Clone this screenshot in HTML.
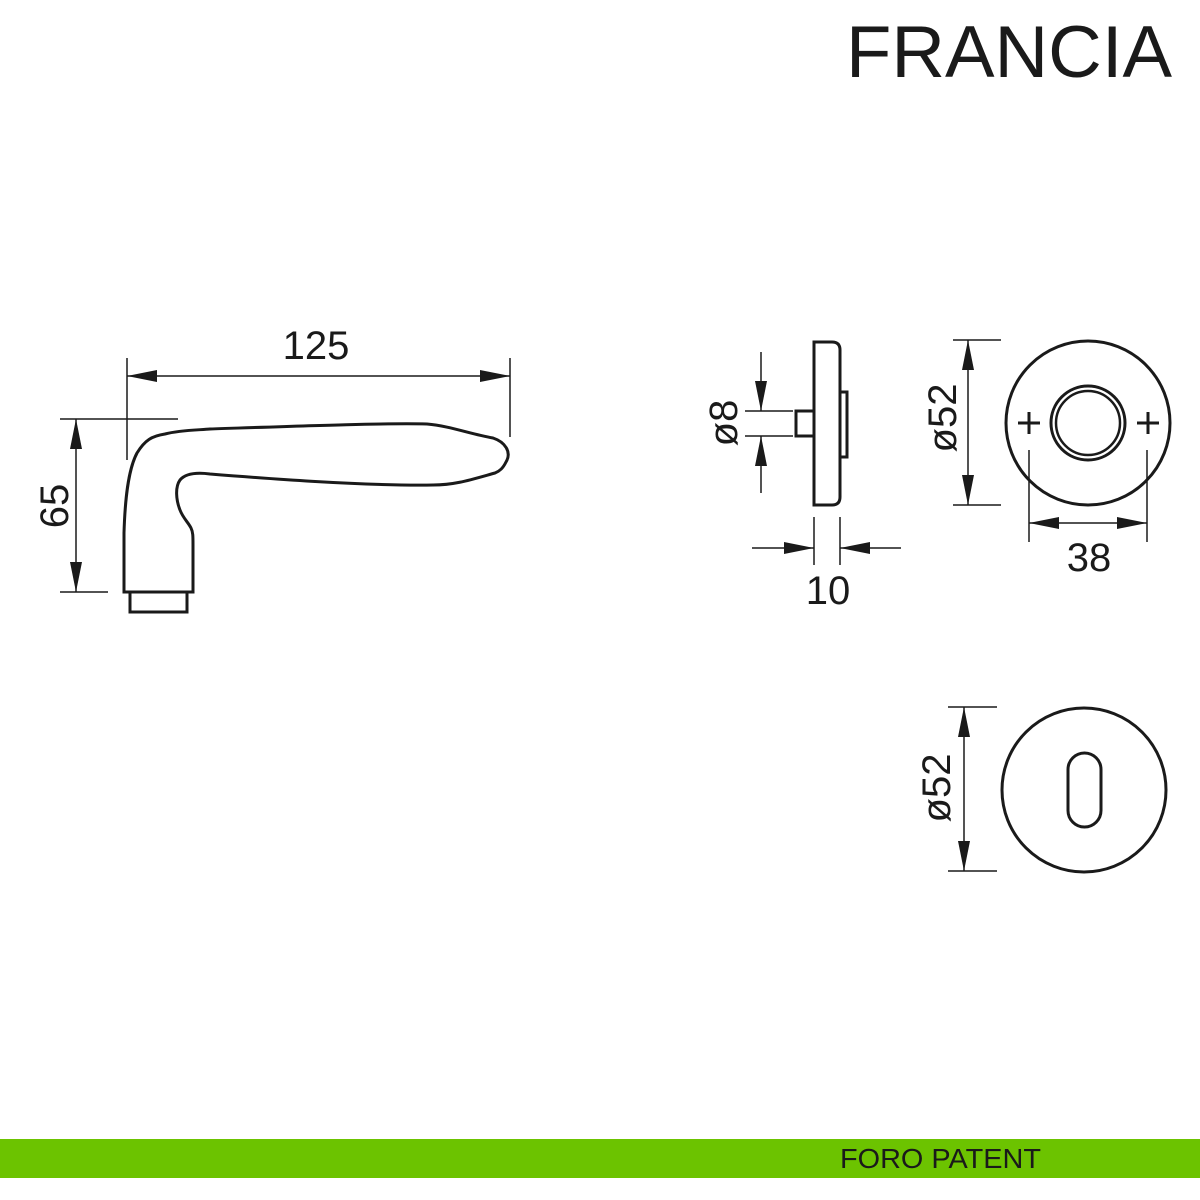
<!DOCTYPE html>
<html><head><meta charset="utf-8"><style>
html,body{margin:0;padding:0;background:#fff}
svg{display:block}
text{font-family:"Liberation Sans",sans-serif;fill:#1a1a1a}
</style></head><body>
<svg width="1200" height="1200" viewBox="0 0 1200 1200" xmlns="http://www.w3.org/2000/svg">
<defs>
<marker id="a" viewBox="0 0 30 12" refX="30" refY="6" markerWidth="30" markerHeight="12" markerUnits="userSpaceOnUse" orient="auto"><path d="M0,0 L30,6 L0,12 z" fill="#1a1a1a"/></marker>
</defs>
<text x="1172" y="77" font-size="73" text-anchor="end" textLength="326" lengthAdjust="spacingAndGlyphs">FRANCIA</text>

<g stroke="#1a1a1a" fill="none">
<path stroke-width="3" d="M124,592 L124,533 C125,500 128,470 137,453 C145,440 152,436 165,434 C180,430 200,430 210,429 C300,426 380,423 427,424 C450,426 470,434 493,438 C505,442 512,452 506,462 C503,468 500,471 495,473 C470,480 455,485 433,485 C360,486 260,478 210,474 C195,472 185,474 180,480 C175,487 176,500 180,510 C183,518 188,522 191,528 C193,532 193,536 193,545 L193,592 Z"/>
<path stroke-width="3" d="M130,593 L130,612 L187,612 L187,593"/>
<line x1="127" y1="358" x2="127" y2="460" stroke-width="1.5"/>
<line x1="510" y1="358" x2="510" y2="437" stroke-width="1.5"/>
<line x1="200" y1="376" x2="127" y2="376" stroke-width="1.5" marker-end="url(#a)"/>
<line x1="200" y1="376" x2="510" y2="376" stroke-width="1.5" marker-end="url(#a)"/>
<line x1="60" y1="419" x2="178" y2="419" stroke-width="1.5"/>
<line x1="60" y1="592" x2="108" y2="592" stroke-width="1.5"/>
<line x1="76" y1="500" x2="76" y2="419" stroke-width="1.5" marker-end="url(#a)"/>
<line x1="76" y1="500" x2="76" y2="592" stroke-width="1.5" marker-end="url(#a)"/>

<path stroke-width="3" d="M814,342 L832,342 Q840,342 840,350 L840,497 Q840,505 832,505 L814,505 Z"/>
<path stroke-width="3" d="M840,392 L847,392 L847,457 L840,457"/>
<rect x="796" y="411" width="18" height="25" stroke-width="3"/>
<line x1="745" y1="411" x2="793" y2="411" stroke-width="1.5"/>
<line x1="745" y1="436" x2="793" y2="436" stroke-width="1.5"/>
<line x1="761" y1="352" x2="761" y2="411" stroke-width="1.5" marker-end="url(#a)"/>
<line x1="761" y1="493" x2="761" y2="436" stroke-width="1.5" marker-end="url(#a)"/>
<line x1="814" y1="517" x2="814" y2="565" stroke-width="1.5"/>
<line x1="840" y1="517" x2="840" y2="565" stroke-width="1.5"/>
<line x1="752" y1="548" x2="814" y2="548" stroke-width="1.5" marker-end="url(#a)"/>
<line x1="901" y1="548" x2="840" y2="548" stroke-width="1.5" marker-end="url(#a)"/>

<circle cx="1088" cy="423" r="82" stroke-width="3"/>
<circle cx="1088" cy="423" r="37" stroke-width="3"/>
<circle cx="1088" cy="423" r="32" stroke-width="2.5"/>
<path stroke-width="3" d="M1018,423 H1040 M1029,412 V434 M1137,423 H1159 M1148,412 V434"/>
<line x1="953" y1="340" x2="1001" y2="340" stroke-width="1.5"/>
<line x1="953" y1="505" x2="1001" y2="505" stroke-width="1.5"/>
<line x1="968" y1="420" x2="968" y2="340" stroke-width="1.5" marker-end="url(#a)"/>
<line x1="968" y1="420" x2="968" y2="505" stroke-width="1.5" marker-end="url(#a)"/>
<line x1="1029" y1="450" x2="1029" y2="542" stroke-width="1.5"/>
<line x1="1147" y1="450" x2="1147" y2="542" stroke-width="1.5"/>
<line x1="1088" y1="523" x2="1029" y2="523" stroke-width="1.5" marker-end="url(#a)"/>
<line x1="1088" y1="523" x2="1147" y2="523" stroke-width="1.5" marker-end="url(#a)"/>

<circle cx="1084" cy="790" r="82" stroke-width="3"/>
<rect x="1068" y="753" width="33" height="74" rx="16.5" stroke-width="3"/>
<line x1="948" y1="707" x2="997" y2="707" stroke-width="1.5"/>
<line x1="948" y1="871" x2="997" y2="871" stroke-width="1.5"/>
<line x1="964" y1="790" x2="964" y2="707" stroke-width="1.5" marker-end="url(#a)"/>
<line x1="964" y1="790" x2="964" y2="871" stroke-width="1.5" marker-end="url(#a)"/>
</g>

<text x="316" y="359" font-size="40" text-anchor="middle">125</text>
<text transform="translate(68,506) rotate(-90)" font-size="40" text-anchor="middle">65</text>
<text transform="translate(737,423) rotate(-90)" font-size="40" text-anchor="middle">ø8</text>
<text x="828" y="604" font-size="40" text-anchor="middle">10</text>
<text transform="translate(956,418) rotate(-90)" font-size="40" text-anchor="middle">ø52</text>
<text x="1089" y="571" font-size="40" text-anchor="middle">38</text>
<text transform="translate(950,788) rotate(-90)" font-size="40" text-anchor="middle">ø52</text>

<rect x="0" y="1139" width="1200" height="39" fill="#6cc300"/>
<text x="840" y="1168" font-size="28" fill="#111" textLength="201" lengthAdjust="spacingAndGlyphs">FORO PATENT</text>
</svg>
</body></html>
